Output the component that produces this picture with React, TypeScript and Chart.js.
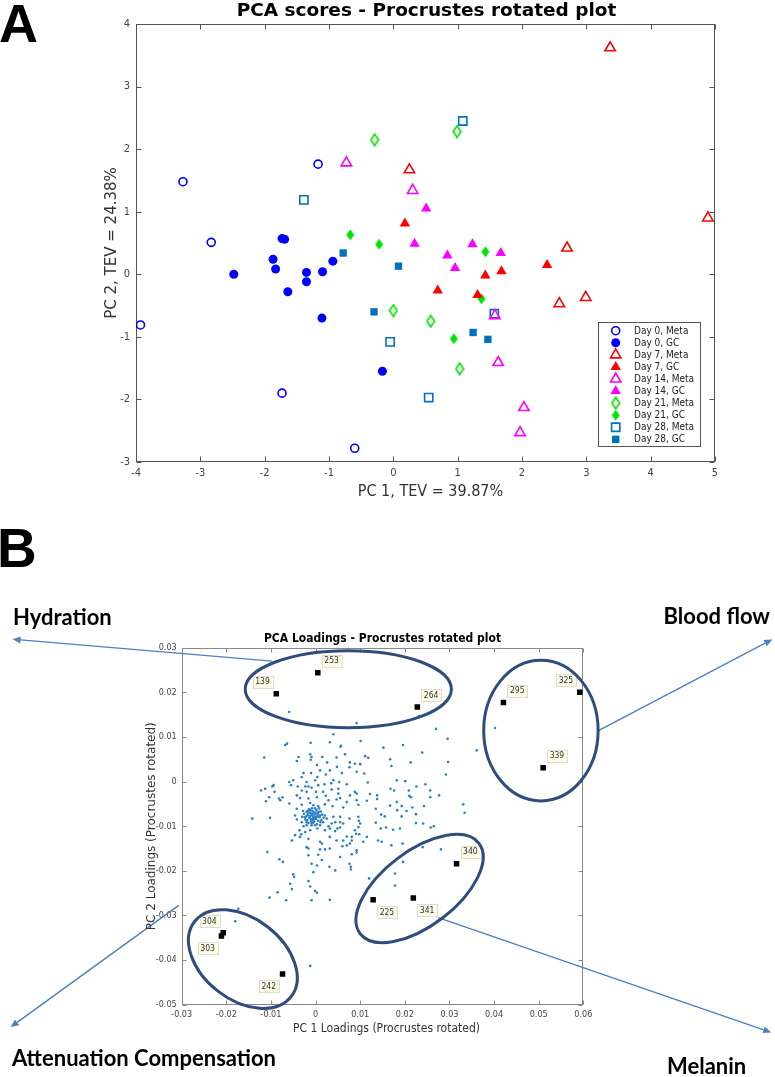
import React, { useEffect, useRef } from 'react';
import { Chart, registerables } from 'chart.js';
Chart.register(...registerables);

// ---------------- Panel A data (PC1, PC2 scores) ----------------
const seriesNames = ['Day 0, Meta', 'Day 0, GC', 'Day 7, Meta', 'Day 7, GC', 'Day 14, Meta', 'Day 14, GC', 'Day 21, Meta', 'Day 21, GC', 'Day 28, Meta', 'Day 28, GC'];
const day0Meta = [[-3.27, 1.48], [-2.83, 0.51], [-3.93, -0.81], [-1.17, 1.76], [-1.73, -1.90], [-0.60, -2.78]];
const day0GC = [[-2.48, 0.0], [-1.87, 0.24], [-1.83, 0.085], [-1.73, 0.57], [-1.69, 0.56], [-1.64, -0.28], [-1.35, 0.03], [-1.35, -0.12], [-1.10, 0.04], [-0.94, 0.21], [-1.11, -0.70], [-0.17, -1.55]];
const day7Meta = [[3.37, 3.62], [4.89, 0.90], [0.25, 1.67], [2.70, 0.42], [2.58, -0.47], [2.99, -0.37]];
const day7GC = [[0.18, 0.81], [0.69, -0.26], [1.31, -0.33], [1.43, -0.02], [1.68, 0.05], [2.39, 0.15]];
const day14Meta = [[-0.73, 1.78], [0.30, 1.34], [1.58, -0.66], [1.63, -1.41], [2.03, -2.13], [1.97, -2.53]];
const day14GC = [[0.51, 1.05], [0.33, 0.49], [0.84, 0.30], [0.96, 0.10], [1.23, 0.48], [1.67, 0.34]];
const day21Meta = [[-0.29, 2.15], [0.99, 2.28], [0.0, -0.58], [0.58, -0.75], [1.03, -1.51]];
const day21GC = [[-0.67, 0.63], [-0.22, 0.48], [1.43, 0.36], [1.37, -0.39], [0.94, -1.03]];
const day28Meta = [[1.08, 2.45], [-1.39, 1.19], [1.57, -0.63], [-0.05, -1.08], [0.55, -1.97]];
const day28GC = [[-0.78, 0.34], [0.08, 0.13], [-0.30, -0.60], [1.24, -0.93], [1.47, -1.04]];
const seriesData = [day0Meta, day0GC, day7Meta, day7GC, day14Meta, day14GC, day21Meta, day21GC, day28Meta, day28GC];
const scoreXTicks = [-4, 5];
const scoreYTicks = [-3, 4];

// ---------------- Panel B data (loadings) ----------------
const loadingCloud = [
  [-0.0059, 0.0156], [0.0092, 0.0131], [0.0040, 0.0106], [-0.0068, 0.0082], [-0.0064, 0.0085], [-0.0011, 0.0087], [0.0032, 0.0088], [0.0056, 0.0078], [0.0101, 0.0091],
  [-0.0115, 0.0054], [-0.0038, 0.0055], [-0.0012, 0.0061], [-0.0042, 0.0046], [-0.0011, 0.0049], [0.0015, 0.0055], [0.0026, 0.0043], [0.0047, 0.0054], [0.0066, 0.0061],
  [0.0077, 0.0043], [0.0088, 0.0040], [0.0100, 0.0039], [0.0003, 0.0037], [0.0048, 0.0033], [0.0076, 0.0032], [0.0010, 0.0025], [0.0032, 0.0025], [-0.0010, 0.0019],
  [-0.0027, 0.0019], [-0.0031, 0.0010], [0.0059, 0.0019], [0.0092, 0.0022], [0.0004, 0.0010], [0.0023, 0.0016], [0.0040, 0.0003], [0.0053, -0.0001], [-0.0050, 0.0003],
  [-0.0020, -0.0001], [-0.0001, 0.0003], [-0.0055, -0.0008], [-0.0040, -0.0011], [-0.0023, -0.0011], [-0.0016, -0.0011], [-0.0009, -0.0014], [0.0006, -0.0008], [0.0020, -0.0006],
  [0.0035, -0.0004], [0.0051, -0.0016], [0.0070, -0.0006], [-0.0122, -0.0020], [-0.0113, -0.0016], [-0.0097, -0.0011], [-0.0092, -0.0023], [-0.0031, -0.0020], [-0.0020, -0.0023],
  [0.0001, -0.0023], [0.0017, -0.0023], [0.0036, -0.0018], [0.0051, -0.0027], [0.0077, -0.0031], [0.0088, -0.0023], [0.0092, -0.0027], [-0.0082, -0.0038], [-0.0074, -0.0035],
  [-0.0111, -0.0044], [-0.0042, -0.0031], [-0.0035, -0.0037], [-0.0016, -0.0038], [0.0003, -0.0035], [0.0023, -0.0032], [0.0029, -0.0042], [0.0047, -0.0040], [0.0055, -0.0037],
  [0.0070, -0.0046], [0.0092, -0.0042], [0.0096, -0.0052], [-0.0059, -0.0049], [-0.0031, -0.0052], [-0.0012, -0.0048], [-0.0005, -0.0053], [0.0006, -0.0055], [0.0021, -0.0051],
  [0.0038, -0.0055], [0.0062, -0.0058], [-0.0042, -0.0061], [-0.0142, -0.0083], [-0.0102, -0.0081], [-0.0046, -0.0076], [-0.0042, -0.0085], [0.0021, -0.0076], [0.0025, -0.0083],
  [0.0040, -0.0079], [0.0055, -0.0079], [0.0076, -0.0083], [0.0096, -0.0079], [0.0097, -0.0088],
  [-0.0015, -0.0062], [-0.0008, -0.0060], [0.0002, -0.0064], [-0.0020, -0.0068], [-0.0012, -0.0070], [-0.0004, -0.0069], [0.0005, -0.0071], [0.0012, -0.0067], [-0.0018, -0.0075],
  [-0.0010, -0.0076], [-0.0002, -0.0074], [0.0004, -0.0078], [-0.0024, -0.0080], [-0.0014, -0.0081], [-0.0006, -0.0082], [0.0001, -0.0084], [0.0009, -0.0080], [-0.0019, -0.0087],
  [-0.0010, -0.0089], [-0.0003, -0.0090], [0.0006, -0.0088], [-0.0008, -0.0072], [-0.0013, -0.0078], [-0.0005, -0.0077], [0.0000, -0.0070], [-0.0016, -0.0093], [0.0003, -0.0095],
  [-0.0009, -0.0098], [0.0015, -0.0074], [0.0013, -0.0086], [-0.0026, -0.0072], [-0.0001, -0.0060], [0.0008, -0.0060], [-0.0011, -0.0084], [-0.0007, -0.0086], [-0.0002, -0.0080],
  [0.0005, -0.0074], [-0.0017, -0.0066], [-0.0021, -0.0078], [-0.0007, -0.0066], [0.0010, -0.0076], [-0.0012, -0.0064], [-0.0004, -0.0085], [0.0002, -0.0079], [-0.0016, -0.0072],
  [0.0007, -0.0068], [-0.0023, -0.0085], [-0.0006, -0.0093], [0.0011, -0.0091], [-0.0028, -0.0066], [0.0018, -0.0081], [-0.0030, -0.0079],
  [0.0232, 0.0147], [0.0270, 0.0118], [0.0296, 0.0096], [0.0196, 0.0082], [0.0152, 0.0076], [0.0361, 0.0070], [0.0239, 0.0065], [0.0111, 0.0057], [0.0118, 0.0053],
  [0.0167, 0.0050], [0.0297, 0.0044], [0.0213, 0.0043], [0.0170, 0.0035], [0.0109, 0.0018], [0.0292, 0.0016], [0.0182, 0.0003], [0.0201, 0.0001], [0.0117, -0.0002],
  [0.0246, -0.0006], [0.0226, -0.0011], [0.0168, -0.0016], [0.0176, -0.0020], [0.0209, -0.0020], [0.0257, -0.0020], [0.0122, -0.0028], [0.0138, -0.0031], [0.0138, -0.0039],
  [0.0210, -0.0032], [0.0214, -0.0035], [0.0277, -0.0031], [0.0257, -0.0035], [0.0115, -0.0043], [0.0182, -0.0046], [0.0167, -0.0054], [0.0193, -0.0055], [0.0217, -0.0058],
  [0.0243, -0.0055], [0.0331, -0.0051], [0.0135, -0.0061], [0.0183, -0.0064], [0.0204, -0.0066], [0.0147, -0.0074], [0.0155, -0.0078], [0.0193, -0.0078], [0.0225, -0.0073],
  [0.0334, -0.0070], [0.0135, -0.0092], [0.0241, -0.0094],
  [0.0402, 0.0120], [0.0057, 0.0080], [0.0265, -0.0100], [0.0258, -0.0103], [0.0225, -0.0093], [0.0189, -0.0105], [0.0174, -0.0108], [0.0146, -0.0105], [0.0170, -0.0143],
  [0.0148, -0.0135], [0.0140, -0.0132], [0.0115, -0.0124], [0.0098, -0.0118], [0.0081, -0.0132], [0.0077, -0.0139], [0.0062, -0.0132], [0.0060, -0.0145], [0.0079, -0.0191],
  [0.0079, -0.0197], [0.0044, -0.0199], [0.0032, -0.0265], [0.0178, -0.0206], [0.0178, -0.0233], [0.0240, -0.0147], [0.0281, -0.0152], [0.0195, -0.0139], [0.0196, -0.0180],
  [-0.0031, -0.0091], [-0.0020, -0.0091], [-0.0027, -0.0100], [-0.0020, -0.0098], [-0.0009, -0.0093], [-0.0001, -0.0098], [0.0010, -0.0098], [0.0017, -0.0091], [0.0029, -0.0100],
  [0.0036, -0.0094], [0.0044, -0.0091], [0.0055, -0.0091], [0.0062, -0.0094], [-0.0036, -0.0109], [-0.0023, -0.0113], [-0.0012, -0.0109], [0.0004, -0.0105], [0.0021, -0.0109],
  [0.0032, -0.0105], [0.0044, -0.0111], [0.0049, -0.0105], [0.0055, -0.0103], [0.0088, -0.0109], [0.0096, -0.0102], [0.0100, -0.0094], [0.0158, -0.0103], [-0.0046, -0.0120],
  [-0.0032, -0.0118], [-0.0035, -0.0124], [-0.0016, -0.0128], [0.0010, -0.0135], [0.0014, -0.0139], [0.0032, -0.0124], [0.0047, -0.0132], [0.0070, -0.0123], [0.0081, -0.0124],
  [0.0091, -0.0117], [-0.0053, -0.0132], [0.0107, -0.0135], [-0.0020, -0.0147], [-0.0016, -0.0150], [0.0010, -0.0152], [0.0021, -0.0152], [0.0032, -0.0150], [0.0070, -0.0143],
  [0.0092, -0.0154], [0.0092, -0.0159], [-0.0108, -0.0158], [-0.0016, -0.0165], [0.0006, -0.0164], [0.0055, -0.0169], [0.0081, -0.0163], [-0.0081, -0.0174], [-0.0073, -0.0180],
  [0.0014, -0.0176], [0.0003, -0.0188], [-0.0009, -0.0184], [0.0076, -0.0184], [0.0031, -0.0191], [-0.0005, -0.0203], [-0.0050, -0.0208], [-0.0048, -0.0214], [0.0120, -0.0217],
  [-0.0016, -0.0223], [-0.0057, -0.0229], [-0.0012, -0.0235], [-0.0001, -0.0245], [0.0003, -0.0249], [-0.0053, -0.0241], [-0.0085, -0.0248], [-0.0103, -0.0260], [-0.0066, -0.0266],
  [-0.0009, -0.0266], [-0.0064, -0.0371], [-0.0012, -0.0413], [-0.0173, -0.0285], [-0.0180, -0.0313], [-0.0079, -0.0042], [-0.0104, -0.0035], [-0.0094, -0.0008], [-0.0059, -0.0001],
  [-0.0009, 0.0055]
];
const loadingLabels = ['139', '253', '264', '295', '325', '339', '340', '341', '225', '304', '303', '242'];
const loadingX = [-0.0088, 0.0005, 0.0228, 0.0421, 0.0592, 0.0510, 0.0316, 0.0219, 0.0129, -0.0207, -0.0211, -0.0074];
const loadingY = [0.0197, 0.0244, 0.0167, 0.0177, 0.0200, 0.0031, -0.0184, -0.0261, -0.0265, -0.0339, -0.0346, -0.0431];
const loadXRange = [-0.03, 0.06];
const loadYRange = [-0.05, 0.03];

// ---------------- Styles (not data) ----------------
const seriesColors = ['#0000ff', '#0000ff', '#ff0000', '#ff0000', '#ff00ff', '#ff00ff', '#00e400', '#00e400', '#0072bd', '#0072bd'];
const seriesShapes = ['circle', 'circle', 'triangle', 'triangle', 'triangle', 'triangle', 'diamond', 'diamond', 'rect', 'rect'];
const seriesFilled = [false, true, false, true, false, true, false, true, false, true];
const labelSideX = [-1, 1, 1, 1, -1, 1, 1, 1, 1, -1, -1, -1];
const labelSideY = [-1, -1, -1, -1, -1, -1, -1, 1, 1, -1, 1, 1];
// ellipse annotations: centre (data), semi axes (data units), angle (deg, screen)
const groupEllipses = [
  { cx: 0.00734, cy: 0.0207, a: 0.0231, b: 0.00863, rot: 0 },
  { cx: 0.0505, cy: 0.01143, a: 0.01282, b: 0.01576, rot: 0 },
  { cx: 0.02331, cy: -0.02397, a: 0.01673, b: 0.00837, rot: -37.3 },
  { cx: -0.01629, cy: -0.03978, a: 0.01371, b: 0.00911, rot: 37.9 },
];
const groupArrows = [
  { x0: -0.00973, y0: 0.0270, x1: -0.0679, y1: 0.0319 },
  { x0: 0.0635, y0: 0.0115, x1: 0.10235, y1: 0.03184 },
  { x0: -0.03069, y0: -0.02774, x1: -0.06834, y1: -0.05502 },
  { x0: 0.02747, y0: -0.03049, x1: 0.10213, y1: -0.05621 },
];
const groupNames = [
  { text: 'Hydration', x: 13, y: 105, align: 'left' },
  { text: 'Blood flow', x: 770, y: 104, align: 'right' },
  { text: 'Attenuation Compensation', x: 12, y: 546, align: 'left' },
  { text: 'Melanin', x: 667, y: 554, align: 'left' },
];

const COND = '"DejaVu Sans Condensed", "Liberation Sans Narrow", "DejaVu Sans", sans-serif';
const SANS = '"DejaVu Sans", "Liberation Sans", sans-serif';
const CALI = 'Lato, "Open Sans", "Liberation Sans", sans-serif';

function makeDiamond(color: string, filled: boolean) {
  const c = document.createElement('canvas');
  const w = filled ? 9 : 10;
  const h = filled ? 12 : 14;
  c.width = w; c.height = h;
  const g = c.getContext('2d')!;
  g.beginPath();
  if (filled) {
    g.moveTo(4.5, 0.5); g.lineTo(8.5, 6); g.lineTo(4.5, 11.5); g.lineTo(0.5, 6); g.closePath();
    g.fillStyle = color; g.fill();
  } else {
    g.moveTo(5, 1.2); g.lineTo(8.8, 7); g.lineTo(5, 12.8); g.lineTo(1.2, 7); g.closePath();
    g.strokeStyle = color; g.lineWidth = 1.6; g.stroke();
  }
  return c;
}

function drawFrame(chart: any, len: number, color: string) {
  const { ctx, chartArea: a, scales } = chart;
  ctx.save();
  ctx.strokeStyle = color;
  ctx.lineWidth = 1;
  const L = Math.round(a.left) + 0.5, R = Math.round(a.right) - 0.5, T = Math.round(a.top) + 0.5, B = Math.round(a.bottom) - 0.5;
  ctx.strokeRect(L, T, R - L, B - T);
  ctx.beginPath();
  scales.x.ticks.forEach((t: any) => {
    const p = Math.round(scales.x.getPixelForValue(t.value)) + 0.5;
    ctx.moveTo(p, B); ctx.lineTo(p, B - len);
    ctx.moveTo(p, T); ctx.lineTo(p, T + len);
  });
  scales.y.ticks.forEach((t: any) => {
    const p = Math.round(scales.y.getPixelForValue(t.value)) + 0.5;
    ctx.moveTo(L, p); ctx.lineTo(L + len, p);
    ctx.moveTo(R, p); ctx.lineTo(R - len, p);
  });
  ctx.stroke();
  ctx.restore();
}

function drawLegendMarker(ctx: CanvasRenderingContext2D, i: number, x: number, y: number, imgs: any[]) {
  const color = seriesColors[i];
  const filled = seriesFilled[i];
  const shape = seriesShapes[i];
  ctx.save();
  ctx.strokeStyle = color; ctx.fillStyle = color; ctx.lineWidth = 1.6;
  if (shape === 'diamond') {
    const im = imgs[i];
    ctx.drawImage(im, x - im.width / 2, y - im.height / 2);
    ctx.restore();
    return;
  }
  ctx.beginPath();
  if (shape === 'circle') {
    ctx.arc(x, y, filled ? 4.5 : 4, 0, Math.PI * 2);
  } else if (shape === 'triangle') {
    const r = 6;
    ctx.moveTo(x, y - r); ctx.lineTo(x + r * 0.866, y + r / 2); ctx.lineTo(x - r * 0.866, y + r / 2); ctx.closePath();
  } else {
    const s = filled ? 3.7 : 4.1;
    ctx.rect(x - s, y - s, 2 * s, 2 * s);
  }
  if (filled) ctx.fill(); else ctx.stroke();
  ctx.restore();
}

const tick2 = (v: any) => {
  const r = Math.round(Number(v) * 100) / 100;
  return r === 0 ? '0' : r.toFixed(2);
};

export default function App() {
  const refA = useRef<HTMLCanvasElement>(null);
  const refB = useRef<HTMLCanvasElement>(null);

  useEffect(() => {
    const imgs = seriesShapes.map((s, i) => (s === 'diamond' ? makeDiamond(seriesColors[i], seriesFilled[i]) : null));

    const datasetsA = seriesData.map((pts, i) => {
      const shape = seriesShapes[i];
      const filled = seriesFilled[i];
      let radius = 4;
      if (shape === 'circle') radius = filled ? 4.5 : 4;
      if (shape === 'triangle') radius = 6;
      if (shape === 'rect') radius = filled ? 5.2 : 5.8;
      if (shape === 'diamond') radius = 5;
      return {
        label: seriesNames[i],
        data: pts.map((p) => ({ x: p[0], y: p[1] })),
        pointStyle: shape === 'diamond' ? imgs[i] : shape,
        pointRadius: radius,
        pointBackgroundColor: filled ? seriesColors[i] : 'rgba(0,0,0,0)',
        pointBorderColor: seriesColors[i],
        pointBorderWidth: filled ? 0 : 1.6,
        showLine: false,
      };
    });

    const panelA = {
      id: 'panelA',
      beforeDatasetsDraw(chart: any) {
        drawFrame(chart, 5, '#555');
      },
      afterDatasetsDraw(chart: any) {
        const { ctx, chartArea: a } = chart;
        const bw = 102, bh = 124;
        const bx = a.right - 15 - bw, by = a.bottom - 16 - bh;
        ctx.save();
        ctx.fillStyle = '#fff';
        ctx.fillRect(bx, by, bw, bh);
        ctx.strokeStyle = '#555';
        ctx.lineWidth = 1;
        ctx.strokeRect(Math.round(bx) + 0.5, Math.round(by) + 0.5, bw, bh);
        ctx.font = `10px ${COND}`;
        ctx.textBaseline = 'middle';
        ctx.textAlign = 'left';
        seriesNames.forEach((n, i) => {
          const y = by + 8.7 + i * 12.07;
          drawLegendMarker(ctx, i, bx + 17.7, y, imgs);
          ctx.fillStyle = '#222';
          ctx.fillText(n, bx + 36, y + 0.5);
        });
        ctx.restore();
      },
      afterDraw(chart: any) {
        const { ctx, chartArea: a } = chart;
        const cx = (a.left + a.right) / 2;
        ctx.save();
        ctx.fillStyle = '#000';
        ctx.textAlign = 'center';
        ctx.textBaseline = 'alphabetic';
        ctx.font = `bold 18.5px ${SANS}`;
        ctx.fillText('PCA scores - Procrustes rotated plot', cx + 1, 16);
        ctx.fillStyle = '#333';
        ctx.font = `16px ${COND}`;
        ctx.fillText('PC 1, TEV = 39.87%', cx + 5, 496);
        ctx.save();
        ctx.translate(116, (a.top + a.bottom) / 2);
        ctx.rotate(-Math.PI / 2);
        ctx.font = `15px ${SANS}`;
        ctx.fillText('PC 2, TEV = 24.38%', 0, 0);
        ctx.restore();
        ctx.fillStyle = '#000';
        ctx.textAlign = 'left';
        ctx.font = `bold 54px "Liberation Sans", Arial, sans-serif`;
        ctx.fillText('A', -1, 42);
        ctx.restore();
      },
    };

    const chartA = new Chart(refA.current!, {
      type: 'scatter',
      data: { datasets: datasetsA as any },
      options: {
        animation: false,
        responsive: false,
        maintainAspectRatio: false,
        devicePixelRatio: 1,
        layout: { padding: { left: 0, right: 60, top: 24, bottom: 0 } },
        plugins: { legend: { display: false }, tooltip: { enabled: false }, title: { display: false } },
        scales: {
          x: {
            type: 'linear', min: scoreXTicks[0], max: scoreXTicks[1],
            ticks: { stepSize: 1, color: '#444', font: { family: COND, size: 11 }, padding: 5, autoSkip: false, maxRotation: 0 },
            grid: { display: false, drawTicks: false }, border: { display: false },
            afterFit: (s: any) => { s.height = 58; },
          },
          y: {
            type: 'linear', min: scoreYTicks[0], max: scoreYTicks[1],
            ticks: { stepSize: 1, color: '#444', font: { family: COND, size: 11 }, padding: 6, autoSkip: false },
            grid: { display: false, drawTicks: false }, border: { display: false },
            afterFit: (s: any) => { s.width = 136; },
          },
        },
      } as any,
      plugins: [panelA],
    });

    // ---------- Panel B ----------
    const panelB = {
      id: 'panelB',
      beforeDatasetsDraw(chart: any) {
        drawFrame(chart, 4, '#888');
      },
      afterDatasetsDraw(chart: any) {
        const { ctx, scales } = chart;
        const xs = scales.x, ys = scales.y;
        const pxPer = Math.abs(xs.getPixelForValue(1) - xs.getPixelForValue(0));
        ctx.save();
        const meta = chart.getDatasetMeta(1);
        ctx.font = `8.5px ${COND}`;
        ctx.textAlign = 'center';
        ctx.textBaseline = 'middle';
        meta.data.forEach((el: any, i: number) => {
          const tw = ctx.measureText(loadingLabels[i]).width;
          const bw = tw + 5, bh = 12;
          const cx = el.x + labelSideX[i] * 13.8;
          const cy = el.y + labelSideY[i] * 12;
          ctx.fillStyle = '#fbfbe6';
          ctx.fillRect(cx - bw / 2, cy - bh / 2, bw, bh);
          ctx.strokeStyle = '#dedccb';
          ctx.lineWidth = 1;
          ctx.strokeRect(Math.round(cx - bw / 2) + 0.5, Math.round(cy - bh / 2) + 0.5, Math.round(bw), bh);
          ctx.fillStyle = '#333';
          ctx.fillText(loadingLabels[i], cx, cy + 0.5);
        });
        ctx.strokeStyle = '#4f7fbc';
        ctx.fillStyle = '#4f7fbc';
        ctx.lineWidth = 1.4;
        groupArrows.forEach((ar) => {
          const x0 = xs.getPixelForValue(ar.x0), y0 = ys.getPixelForValue(ar.y0);
          const x1 = xs.getPixelForValue(ar.x1), y1 = ys.getPixelForValue(ar.y1);
          const ang = Math.atan2(y1 - y0, x1 - x0);
          const hl = 8, hw = 3.5;
          const bx = x1 - hl * Math.cos(ang), by = y1 - hl * Math.sin(ang);
          ctx.beginPath();
          ctx.moveTo(x0, y0); ctx.lineTo(bx, by);
          ctx.stroke();
          ctx.beginPath();
          ctx.moveTo(x1, y1);
          ctx.lineTo(bx + hw * Math.sin(ang), by - hw * Math.cos(ang));
          ctx.lineTo(bx - hw * Math.sin(ang), by + hw * Math.cos(ang));
          ctx.closePath();
          ctx.fill();
        });
        ctx.strokeStyle = '#2f4d7c';
        ctx.lineWidth = 3;
        groupEllipses.forEach((e) => {
          ctx.beginPath();
          ctx.ellipse(xs.getPixelForValue(e.cx), ys.getPixelForValue(e.cy), e.a * pxPer, e.b * pxPer, (e.rot * Math.PI) / 180, 0, Math.PI * 2);
          ctx.stroke();
        });
        ctx.restore();
      },
      afterDraw(chart: any) {
        const { ctx, chartArea: a } = chart;
        const cx = (a.left + a.right) / 2;
        ctx.save();
        ctx.textBaseline = 'alphabetic';
        ctx.fillStyle = '#000';
        ctx.textAlign = 'center';
        ctx.font = `bold 12px ${COND}`;
        ctx.fillText('PCA Loadings - Procrustes rotated plot', cx, 122);
        ctx.fillStyle = '#333';
        ctx.font = `12px ${COND}`;
        ctx.fillText('PC 1 Loadings (Procrustes rotated)', cx + 4, 512);
        ctx.save();
        ctx.translate(155, (a.top + a.bottom) / 2);
        ctx.rotate(-Math.PI / 2);
        ctx.font = `12px ${SANS}`;
        ctx.fillText('PC 2 Loadings (Procrustes rotated)', 0, 0);
        ctx.restore();
        ctx.fillStyle = '#000';
        ctx.font = `bold 22px ${CALI}`;
        groupNames.forEach((g) => {
          ctx.textAlign = g.align as CanvasTextAlign;
          ctx.fillText(g.text, g.x, g.y);
        });
        ctx.textAlign = 'left';
        ctx.font = `bold 55px "Liberation Sans", Arial, sans-serif`;
        ctx.fillText('B', -3, 47);
        ctx.restore();
      },
    };

    const chartB = new Chart(refB.current!, {
      type: 'scatter',
      data: {
        datasets: [
          {
            label: 'loadings',
            data: loadingCloud.map((p) => ({ x: p[0], y: p[1] })),
            pointRadius: 1.3,
            pointBorderWidth: 0,
            pointBackgroundColor: '#2a7fc4',
            pointBorderColor: '#2a7fc4',
          },
          {
            label: 'selected',
            data: loadingX.map((x, i) => ({ x, y: loadingY[i] })),
            pointStyle: 'rect',
            pointRadius: 3.9,
            pointBorderWidth: 0,
            pointBackgroundColor: '#000',
            pointBorderColor: '#000',
          },
        ] as any,
      },
      options: {
        animation: false,
        responsive: false,
        maintainAspectRatio: false,
        devicePixelRatio: 1,
        layout: { padding: { left: 0, right: 191.7, top: 127.7, bottom: 0 } },
        plugins: { legend: { display: false }, tooltip: { enabled: false }, title: { display: false } },
        scales: {
          x: {
            type: 'linear', min: loadXRange[0], max: loadXRange[1],
            ticks: { stepSize: 0.01, color: '#444', font: { family: COND, size: 9 }, padding: 5, autoSkip: false, maxRotation: 0, callback: tick2 },
            grid: { display: false, drawTicks: false }, border: { display: false },
            afterFit: (s: any) => { s.height = 72.3; },
          },
          y: {
            type: 'linear', min: loadYRange[0], max: loadYRange[1],
            ticks: { stepSize: 0.01, color: '#444', font: { family: COND, size: 9 }, padding: 5, autoSkip: false, callback: tick2 },
            grid: { display: false, drawTicks: false }, border: { display: false },
            afterFit: (s: any) => { s.width = 181.7; },
          },
        },
      } as any,
      plugins: [panelB],
    });

    return () => {
      chartA.destroy();
      chartB.destroy();
    };
  }, []);

  return (
    <div style={{ position: 'absolute', left: 0, top: 0, width: 775, height: 1077, background: '#fff' }}>
      <canvas ref={refA} width={775} height={520} style={{ position: 'absolute', left: 0, top: 0, width: 775, height: 520 }} />
      <canvas ref={refB} width={775} height={557} style={{ position: 'absolute', left: 0, top: 520, width: 775, height: 557 }} />
    </div>
  );
}
